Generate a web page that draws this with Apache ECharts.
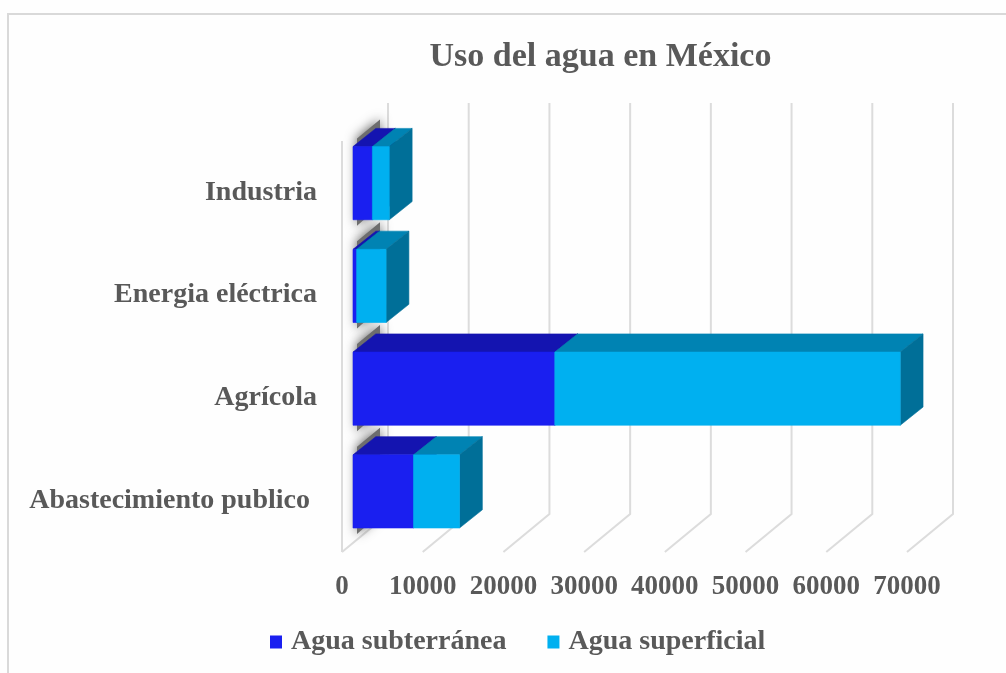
<!DOCTYPE html>
<html><head><meta charset="utf-8">
<style>html,body{margin:0;padding:0;background:#fff}#c{width:1006px;height:673px}</style>
<script src="https://cdn.jsdelivr.net/npm/echarts@6/dist/echarts.min.js"></script>
</head><body><div id="c"></div>
<script>
const categories = ['Abastecimiento publico ', 'Agrícola', 'Energia eléctrica', 'Industria'];
const aguaSubterranea = [7500, 25000, 450, 2400];
const aguaSuperficial = [5700, 42800, 3650, 2100];
const xTicks = [0, 10000, 20000, 30000, 40000, 50000, 60000, 70000];

const chart = echarts.init(document.getElementById('c'), null, {renderer: 'canvas'});
const FONT = '"Liberation Serif","Times New Roman",serif';
const TXT = '#595959';
const BAR_X = 11, BAR_Y = -9.2, DEPTH_X = 22.8, DEPTH_Y = -18.2, BAR_RATIO = 0.712;
const WALL_X = 46, WALL_Y = -38;

function poly(points, fill, z2) {
  return {type: 'polygon', shape: {points}, z2: z2 || 0, silent: true,
    style: {fill, stroke: fill, lineWidth: 0.6}};
}
function barRenderer(frontColor, topColor, sideColor, withSide) {
  return function (params, api) {
    const cat = api.value(0);
    const a = api.coord([api.value(1), cat]);
    const b = api.coord([api.value(2), cat]);
    const h = api.size([0, 1])[1] * BAR_RATIO;
    const x0 = a[0] + BAR_X, x1 = b[0] + BAR_X;
    const y0 = a[1] + BAR_Y - h / 2, y1 = y0 + h;
    const children = [
      poly([[x0, y0], [x0 + DEPTH_X, y0 + DEPTH_Y], [x1 + DEPTH_X, y0 + DEPTH_Y], [x1, y0]], topColor),
      poly([[x0, y0], [x1, y0], [x1, y1], [x0, y1]], frontColor, 1)
    ];
    if (withSide) children.push(poly([[x1, y0], [x1 + DEPTH_X, y0 + DEPTH_Y], [x1 + DEPTH_X, y1 + DEPTH_Y], [x1, y1]], sideColor));
    return {type: 'group', children};
  };
}
const subData = categories.map((c, i) => [i, 0, aguaSubterranea[i]]);
const supData = categories.map((c, i) => [i, aguaSubterranea[i], aguaSubterranea[i] + aguaSuperficial[i]]);

const option = {
  backgroundColor: '#fefefe',
  animation: false,
  title: {text: 'Uso del agua en México', left: 595.5, top: 35, textAlign: 'center',
    textStyle: {fontFamily: FONT, fontWeight: 'bold', fontSize: 34, color: TXT}},
  legend: {
    left: 270, top: 628, padding: 0, itemWidth: 12, itemHeight: 13, itemGap: 41, icon: 'rect',
    data: ['Agua subterránea', 'Agua superficial'],
    textStyle: {fontFamily: FONT, fontWeight: 'bold', fontSize: 28, color: TXT, padding: [0, 0, 0, 4]}
  },
  grid: {left: 342, top: 141, width: 565, height: 411, containLabel: false},
  xAxis: {type: 'value', min: 0, max: 70000, interval: 10000,
    axisLine: {show: false}, axisTick: {show: false}, splitLine: {show: false},
    axisLabel: {fontFamily: FONT, fontWeight: 'bold', fontSize: 27, color: TXT, margin: 22, hideOverlap: false, showMinLabel: true, showMaxLabel: true, formatter: v => String(v)}},
  yAxis: {type: 'category', data: categories,
    axisLine: {show: false}, axisTick: {show: false}, splitLine: {show: false},
    axisLabel: {fontFamily: FONT, fontWeight: 'bold', fontSize: 28, color: TXT, margin: 25, interval: 0, padding: [7, 0, 0, 0]}},
  graphic: [{type: 'polyline', silent: true, z: -1,
    shape: {points: [[8, 673], [8, 14], [1006, 14]]},
    style: {stroke: '#d9d9d9', lineWidth: 2, fill: null}}],
  series: [
    {type: 'custom', name: 'walls', silent: true, z: 1, clip: false,
      data: xTicks.map(v => [v, 0]), encode: {x: 0, y: 1},
      renderItem(params, api) {
        const x = api.coord([api.value(0), 0])[0];
        const g = params.coordSys;
        const bottom = g.y + g.height;
        const children = [{type: 'polyline', silent: true,
          shape: {points: [[x, bottom], [x + WALL_X, bottom + WALL_Y], [x + WALL_X, g.y + WALL_Y]]},
          style: {stroke: '#dcdcdc', lineWidth: 2, fill: null}}];
        if (api.value(0) === 0) children.push({type: 'line', silent: true,
          shape: {x1: x, y1: g.y, x2: x, y2: bottom}, style: {stroke: '#dcdcdc', lineWidth: 2}});
        return {type: 'group', children};
      }},
    {type: 'custom', name: 'shadow', silent: true, z: 2, clip: false,
      data: subData, encode: {x: [1, 2], y: 0},
      renderItem(params, api) {
        const c = api.coord([0, api.value(0)]);
        const h = api.size([0, 1])[1] * BAR_RATIO;
        const yt = c[1] + BAR_Y - h / 2, yb = yt + h, l = c[0] + 15, r = c[0] + 38;
        return {type: 'polygon', silent: true,
          shape: {points: [[l, yt - 8], [r, yt - 27], [r, yb - 14], [l, yb + 6]]},
          style: {fill: '#6e6e6e', shadowBlur: 12, shadowColor: '#555'}};
      }},
    {type: 'custom', name: 'Agua subterránea', z: 3, clip: false, silent: true,
      itemStyle: {color: '#1a1ff0'},
      data: subData, encode: {x: [1, 2], y: 0},
      renderItem: barRenderer('#1a1ff0', '#1414b0', '#0f1090', true)},
    {type: 'custom', name: 'Agua superficial', z: 4, clip: false, silent: true,
      itemStyle: {color: '#00b0f0'},
      data: supData, encode: {x: [1, 2], y: 0},
      renderItem: barRenderer('#00b0f0', '#0083b3', '#006f98', true)}
  ]
};
chart.setOption(option);
</script></body></html>
